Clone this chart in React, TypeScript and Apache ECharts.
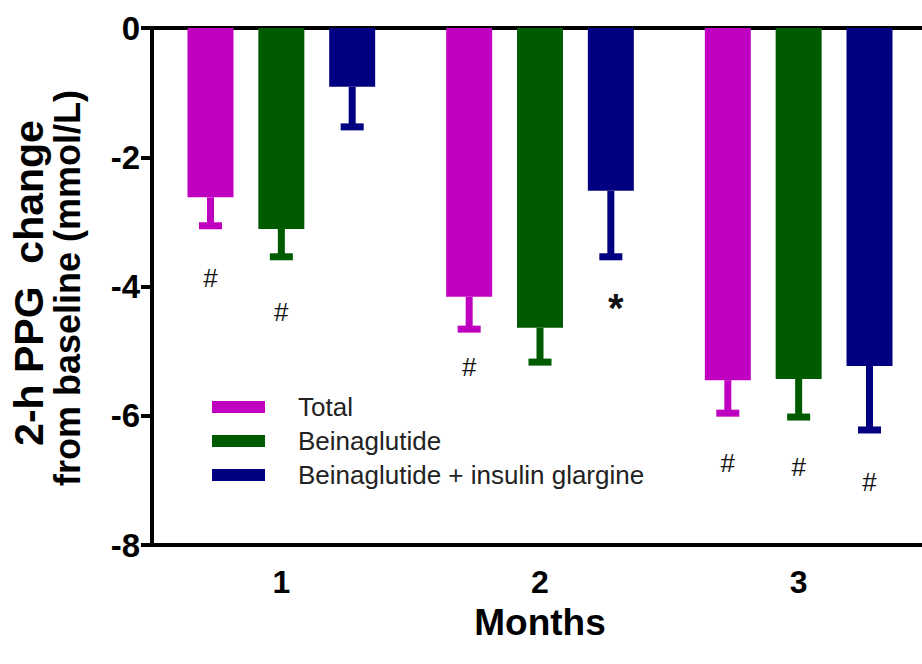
import React, { useEffect, useRef } from "react";
import * as echarts from "echarts";

const months = ["1", "2", "3"];
const seriesNames = ["Total", "Beinaglutide", "Beinaglutide + insulin glargine"];
const colors = ["#C000C0", "#005A00", "#000080"];

const totalMean = [-2.62, -4.16, -5.45];
const totalErr = [0.44, 0.5, 0.51];
const beinaMean = [-3.11, -4.64, -5.43];
const beinaErr = [0.43, 0.53, 0.59];
const comboMean = [-0.91, -2.52, -5.23];
const comboErr = [0.62, 1.02, 0.99];

const totalMarks = ["#", "#", "#"];
const beinaMarks = ["#", "", "#"];
const comboMarks = ["", "*", "#"];
const totalMarkY = [-3.87, -5.25, -6.73];
const beinaMarkY = [-4.39, 0, -6.79];
const comboMarkY = [0, -4.21, -7.03];

const yTicks = [0, -2, -4, -6, -8];

const FONT = "'Liberation Sans', Arial, Helvetica, sans-serif";
const BAR_W = 46;
const BAR_GAP = 0.54;

export default function App() {
  const ref = useRef<HTMLDivElement>(null);
  useEffect(() => {
    if (!ref.current) return;
    const chart = echarts.init(ref.current, null, { renderer: "svg" });
    const means = [totalMean, beinaMean, comboMean];
    const errs = [totalErr, beinaErr, comboErr];
    const marks = [totalMarks, beinaMarks, comboMarks];
    const markYs = [totalMarkY, beinaMarkY, comboMarkY];

    const barSeries = seriesNames.map((name, i) => ({
      name,
      type: "bar",
      xAxisIndex: 0,
      barWidth: BAR_W,
      barGap: BAR_GAP * 100 + "%",
      itemStyle: { color: colors[i] },
      data: means[i],
      z: 2,
    }));

    const errSeries = seriesNames.map((name, i) => ({
      name: name + " err",
      type: "custom",
      xAxisIndex: 0,
      clip: false,
      z: 3,
      data: means[i].map((m, k) => [k, m, errs[i][k], markYs[i][k]]),
      renderItem: (params: any, api: any) => {
        const idx = api.value(0);
        const mean = api.value(1);
        const err = api.value(2);
        const my = api.value(3);
        const off = (i - 1) * BAR_W * (1 + BAR_GAP);
        const p0 = api.coord([idx, mean]);
        const p1 = api.coord([idx, mean - err]);
        const x = p0[0] + off;
        const children: any[] = [
          {
            type: "rect",
            shape: { x: x - 3.5, y: p0[1], width: 7, height: p1[1] - p0[1] },
            style: { fill: colors[i] },
          },
          {
            type: "rect",
            shape: { x: x - 11.5, y: p1[1] - 3.5, width: 23, height: 7 },
            style: { fill: colors[i] },
          },
        ];
        const mk = marks[i][params.dataIndex];
        if (mk) {
          const pm = api.coord([idx, my]);
          const isStar = mk === "*";
          children.push({
            type: "text",
            x: x + (isStar ? 5 : 0),
            y: pm[1] + (isStar ? 8 : 0),
            style: {
              text: mk,
              fill: "#111",
              font: (isStar ? "bold 40px " : "26px ") + FONT,
              align: "center",
              verticalAlign: "middle",
            },
          });
        }
        return { type: "group", children };
      },
    }));

    chart.setOption({
      animation: false,
      backgroundColor: "#fff",
      grid: { left: 152, right: 0, top: 28, bottom: 119, containLabel: false },
      legend: {
        data: seriesNames,
        orient: "vertical",
        left: 212,
        top: 394,
        padding: 0,
        icon: "rect",
        itemWidth: 53,
        itemHeight: 12,
        itemGap: 8,
        textStyle: {
          fontFamily: FONT,
          fontSize: 26,
          lineHeight: 26,
          color: "#222",
          padding: [0, 0, 0, 28],
        },
      },
      xAxis: [
        {
          type: "category",
          data: months,
          position: "bottom",
          axisLine: { onZero: false, lineStyle: { color: "#000", width: 4 } },
          axisTick: { alignWithLabel: true, length: 14, lineStyle: { color: "#000", width: 4 } },
          axisLabel: {
            fontFamily: FONT,
            fontSize: 32,
            fontWeight: "bold",
            color: "#000",
            margin: 21,
          },
          name: "Months",
          nameLocation: "middle",
          nameGap: 59,
          nameTextStyle: { fontFamily: FONT, fontSize: 37, fontWeight: "bold", color: "#000" },
          splitLine: { show: false },
        },
        {
          type: "category",
          data: months,
          position: "top",
          axisLine: { onZero: false, lineStyle: { color: "#000", width: 4 } },
          axisTick: { show: false },
          axisLabel: { show: false },
          splitLine: { show: false },
        },
      ],
      yAxis: {
        type: "value",
        min: yTicks[yTicks.length - 1],
        max: yTicks[0],
        interval: 2,
        axisLine: { show: true, lineStyle: { color: "#000", width: 4 } },
        axisTick: { show: true, length: 11, lineStyle: { color: "#000", width: 4 } },
        axisLabel: {
          fontFamily: FONT,
          fontSize: 33,
          fontWeight: "bold",
          color: "#000",
          margin: 12,
        },
        splitLine: { show: false },
      },
      graphic: [
        {
          type: "text",
          x: 29,
          y: 283,
          rotation: Math.PI / 2,
          style: {
            text: "2-h PPG  change",
            font: "bold 41px " + FONT,
            fill: "#000",
            align: "center",
            verticalAlign: "middle",
          },
        },
        {
          type: "text",
          x: 67,
          y: 288,
          rotation: Math.PI / 2,
          style: {
            text: "from baseline (mmol/L)",
            font: "bold 36px " + FONT,
            fill: "#000",
            align: "center",
            verticalAlign: "middle",
          },
        },
      ],
      series: [...barSeries, ...errSeries],
    });
    return () => chart.dispose();
  }, []);
  return (
    <div
      style={{
        position: "absolute",
        left: 0,
        top: 0,
        width: 922,
        height: 664,
        overflow: "hidden",
      }}
    >
      <div ref={ref} style={{ width: 928, height: 664 }} />
    </div>
  );
}
